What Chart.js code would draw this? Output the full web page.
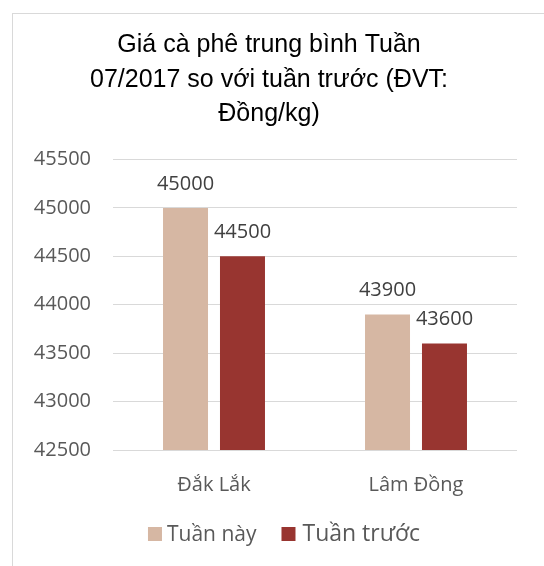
<!DOCTYPE html>
<html>
<head>
<meta charset="utf-8">
<script src="https://cdn.jsdelivr.net/npm/chart.js@4.4.0/dist/chart.umd.min.js"></script>
<style>
  html, body { margin: 0; padding: 0; background: #fff; overflow: hidden; }
  #frame { position: absolute; left: 12px; top: 13px; width: 560px; height: 580px; border: 1px solid #d9d9d9; }
  #wrap { position: absolute; left: 21px; top: 0; width: 496px; height: 566px; }
</style>
</head>
<body>
<div id="frame"></div>
<div id="wrap"><canvas id="chart" width="496" height="566"></canvas></div>
<script>
// du lieu doc tu hinh
const categories = ['Đắk Lắk', 'Lâm Đồng'];
const seriesNames = ['Tuần này', 'Tuần trước'];
const tuanNay = [45000, 43900];
const tuanTruoc = [44500, 43600];
const yTicks = [42500, 43000, 43500, 44000, 44500, 45000, 45500];
const titleLines = ['Giá cà phê trung bình Tuần', '07/2017 so với tuần trước (ĐVT:', 'Đồng/kg)'];

const colors = ['#D6B7A3', '#983530'];

// nhan gia tri tren cot
const valueLabels = {
  id: 'valueLabels',
  afterDatasetsDraw(chart) {
    const ctx = chart.ctx;
    ctx.save();
    ctx.font = '20px "Open Sans"';
    ctx.fillStyle = '#404040';
    ctx.textAlign = 'center';
    ctx.textBaseline = 'alphabetic';
    chart.data.datasets.forEach((ds, i) => {
      chart.getDatasetMeta(i).data.forEach((bar, j) => {
        ctx.fillText(String(ds.data[j]), bar.x, bar.y - 18);
      });
    });
    ctx.restore();
  }
};

// chu thich (hai co chu khac nhau nhu ban goc)
const legendBox = {
  id: 'legendBox',
  afterDraw(chart) {
    const ctx = chart.ctx;
    const items = [
      { text: seriesNames[0], color: colors[0], size: 21, gap: 5 },
      { text: seriesNames[1], color: colors[1], size: 23, gap: 7 }
    ];
    const box = 14, itemGap = 25, baseline = 541;
    ctx.save();
    const widths = items.map(it => {
      ctx.font = it.size + 'px "Open Sans"';
      return box + it.gap + ctx.measureText(it.text).width;
    });
    const total = widths[0] + widths[1] + itemGap;
    let x = chart.width / 2 + 15 - total / 2;
    items.forEach((it, i) => {
      ctx.fillStyle = it.color;
      ctx.fillRect(x, baseline - box, box, box);
      ctx.font = it.size + 'px "Open Sans"';
      ctx.fillStyle = '#595959';
      ctx.textAlign = 'left';
      ctx.textBaseline = 'alphabetic';
      ctx.fillText(it.text, x + box + it.gap, baseline);
      x += widths[i] + itemGap;
    });
    ctx.restore();
  }
};

const chart = new Chart(document.getElementById('chart'), {
  type: 'bar',
  data: {
    labels: categories,
    datasets: [
      { label: seriesNames[0], data: tuanNay, backgroundColor: colors[0] },
      { label: seriesNames[1], data: tuanTruoc, backgroundColor: colors[1] }
    ]
  },
  options: {
    responsive: false,
    animation: false,
    layout: { padding: { left: 0, right: 0, top: 0, bottom: 46 } },
    datasets: {
      bar: { categoryPercentage: 0.564, barPercentage: 0.79 }
    },
    plugins: {
      legend: { display: false },
      tooltip: { enabled: false },
      title: {
        display: true,
        text: titleLines,
        color: '#000',
        font: { family: '"Liberation Sans", Arial', size: 25, weight: 'normal', lineHeight: 1.38 },
        padding: { top: 28, bottom: 28 }
      }
    },
    scales: {
      x: {
        grid: { display: false, drawTicks: false },
        border: { display: false },
        ticks: { color: '#595959', font: { family: '"Open Sans"', size: 20 }, padding: 23 }
      },
      y: {
        min: yTicks[0],
        max: yTicks[yTicks.length - 1],
        beginAtZero: false,
        grid: { color: '#d9d9d9', drawTicks: false },
        border: { display: false },
        ticks: {
          stepSize: yTicks[1] - yTicks[0],
          color: '#595959',
          font: { family: '"Open Sans"', size: 20 },
          padding: 22,
          callback: v => String(v)
        },
        afterFit(scale) { scale.width = 92; }
      }
    }
  },
  plugins: [valueLabels, legendBox]
});
</script>
</body>
</html>
